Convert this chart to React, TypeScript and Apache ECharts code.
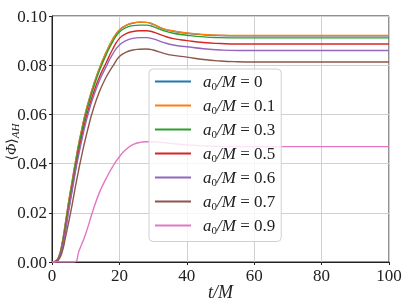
import React, { useEffect, useRef } from "react";
import * as echarts from "echarts";

// time samples (t/M) for the six upper curves
const T = [0, 1, 2, 3, 4, 5, 6, 7, 8, 9, 10, 11, 12, 14, 16, 18, 20, 22, 24, 26, 28, 30, 33, 36, 40, 45, 50, 55, 60, 70, 80, 90, 100];

const phi_a00 = [0, 0.0003, 0.002, 0.0075, 0.016, 0.025, 0.033, 0.041, 0.0485, 0.055, 0.061, 0.066, 0.0705, 0.0785, 0.085, 0.0905, 0.0943, 0.0962, 0.0971, 0.0975, 0.0974, 0.0966, 0.0948, 0.0938, 0.093, 0.0924, 0.0921, 0.092, 0.092, 0.092, 0.092, 0.092, 0.092];
const phi_a01 = [0, 0.0003, 0.002, 0.0075, 0.016, 0.025, 0.033, 0.041, 0.0485, 0.055, 0.061, 0.066, 0.0705, 0.0785, 0.085, 0.0905, 0.0943, 0.0962, 0.0972, 0.0975, 0.0974, 0.0967, 0.0949, 0.0939, 0.0931, 0.0925, 0.0922, 0.0921, 0.0921, 0.0921, 0.0921, 0.0921, 0.0921];
const phi_a03 = [0, 0.0002, 0.0018, 0.007, 0.015, 0.0238, 0.032, 0.04, 0.0475, 0.054, 0.06, 0.065, 0.0695, 0.0775, 0.084, 0.0895, 0.0935, 0.0953, 0.0961, 0.0963, 0.0963, 0.0957, 0.0941, 0.093, 0.0922, 0.0915, 0.0912, 0.0911, 0.0911, 0.0911, 0.0911, 0.0911, 0.0911];
const phi_a05 = [0, 0.0002, 0.0015, 0.006, 0.0135, 0.022, 0.03, 0.038, 0.0455, 0.052, 0.058, 0.063, 0.0675, 0.075, 0.0808, 0.0865, 0.0909, 0.0928, 0.0937, 0.094, 0.094, 0.0935, 0.092, 0.0908, 0.09, 0.0892, 0.0888, 0.0886, 0.0886, 0.0886, 0.0886, 0.0886, 0.0886];
const phi_a06 = [0, 0.0001, 0.0013, 0.0055, 0.0125, 0.021, 0.029, 0.037, 0.044, 0.0505, 0.0565, 0.0615, 0.066, 0.0735, 0.0792, 0.0845, 0.0882, 0.09, 0.0909, 0.0912, 0.0912, 0.0907, 0.0893, 0.0882, 0.0875, 0.0867, 0.0862, 0.086, 0.086, 0.086, 0.086, 0.086, 0.086];
const phi_a07 = [0, 0.0001, 0.001, 0.004, 0.01, 0.0165, 0.0235, 0.031, 0.038, 0.0445, 0.0505, 0.056, 0.061, 0.069, 0.075, 0.0795, 0.0835, 0.0853, 0.0862, 0.0865, 0.0866, 0.0862, 0.0849, 0.084, 0.0833, 0.0823, 0.0817, 0.0814, 0.0813, 0.0813, 0.0813, 0.0813, 0.0813];

// a0/M = 0.9 curve has its own samples
const T_a09 = [0, 6.5, 8, 10, 12, 14, 16, 18, 20, 22, 24, 26, 28, 30, 33, 36, 40, 45, 50, 60, 70, 80, 90, 100];
const phi_a09 = [0, 0, 0.0045, 0.0115, 0.0202, 0.028, 0.0338, 0.0388, 0.0428, 0.0458, 0.0477, 0.0486, 0.0489, 0.0489, 0.0486, 0.0481, 0.0476, 0.0472, 0.047, 0.0469, 0.0469, 0.0469, 0.0469, 0.0469];

const spinLabels = ["0", "0.1", "0.3", "0.5", "0.6", "0.7", "0.9"];
const colors = ["#1f77b4", "#ff7f0e", "#2ca02c", "#d62728", "#9467bd", "#8c564b", "#e377c2"];

const xTicks = { min: 0, max: 100, interval: 20 };
const yTicks = { min: 0, max: 0.1, interval: 0.02 };

const SERIF = "'Liberation Serif', 'DejaVu Serif', serif";

export default function App() {
  const ref = useRef<HTMLDivElement>(null);
  useEffect(() => {
    if (!ref.current) return;
    const chart = echarts.init(ref.current, null, { renderer: "svg" });
    const ys = [phi_a00, phi_a01, phi_a03, phi_a05, phi_a06, phi_a07];
    const series: any[] = spinLabels.map((lab, i) => {
      const xs = i === 6 ? T_a09 : T;
      const vals = i === 6 ? phi_a09 : ys[i];
      return {
        name: lab,
        type: "line",
        data: xs.map((t, k) => [t, vals[k]]),
        showSymbol: false,
        symbol: "none",
        smooth: 0.5,
        lineStyle: { color: colors[i], width: 1.4 },
        itemStyle: { color: colors[i] },
      };
    });
    chart.setOption({
      animation: false,
      grid: {
        left: 52, right: 20, top: 16, bottom: 45,
        containLabel: false,
        outerBoundsMode: "none",
        show: true, borderColor: "#222", borderWidth: 1, backgroundColor: "transparent",
      },
      graphic: [
        {
          type: "text",
          x: 11,
          y: 142,
          rotation: Math.PI / 2,
          style: {
            text: "{b|⟨}{i|Φ}{b|⟩}{s|AH}",
            align: "center",
            verticalAlign: "middle",
            rich: {
              b: { fontFamily: "'DejaVu Serif', serif", fontSize: 14, fill: "#222", lineHeight: 18 },
              i: { fontFamily: SERIF, fontStyle: "italic", fontSize: 15, fill: "#222", lineHeight: 18 },
              s: { fontFamily: SERIF, fontStyle: "italic", fontSize: 11, fill: "#222", lineHeight: 11, verticalAlign: "bottom" },
            },
          },
        },
      ],
      xAxis: {
        type: "value",
        min: xTicks.min,
        max: xTicks.max,
        interval: xTicks.interval,
        name: "t/M",
        nameLocation: "middle",
        nameGap: 21,
        nameMoveOverlap: false,
        nameTextStyle: { fontFamily: SERIF, fontStyle: "italic", fontSize: 18, color: "#222" },
        axisLine: { show: true, lineStyle: { color: "#222", width: 1 } },
        axisTick: { show: true, length: 3, lineStyle: { color: "#222" } },
        axisLabel: { fontFamily: SERIF, fontSize: 17, color: "#222", margin: 5 },
        splitLine: { show: true, lineStyle: { color: "#d0d0d0", width: 1 } },
      },
      yAxis: {
        type: "value",
        min: yTicks.min,
        max: yTicks.max,
        interval: yTicks.interval,
        axisLine: { show: true, lineStyle: { color: "#222", width: 1 } },
        axisTick: { show: true, length: 3, lineStyle: { color: "#222" } },
        axisLabel: { fontFamily: SERIF, fontSize: 17, color: "#222", margin: 5, formatter: (v: number) => v.toFixed(2) },
        splitLine: { show: true, lineStyle: { color: "#d0d0d0", width: 1 } },
      },
      legend: {
        orient: "vertical",
        left: 149,
        top: 69,
        padding: [4, 6, 6, 6],
        itemGap: 5.5,
        itemWidth: 36,
        itemHeight: 2,
        icon: "rect",
        backgroundColor: "rgba(255,255,255,0.8)",
        borderColor: "#d0d0d0",
        borderWidth: 1,
        borderRadius: 4,
        data: spinLabels,
        formatter: (name: string) => `{g| }{i|a}{s|0}{i|/M}{r| = ${name}}`,
        textStyle: {
          rich: {
            g: { width: 7, fontSize: 10, lineHeight: 20 },
            i: { fontFamily: SERIF, fontStyle: "italic", fontSize: 17, color: "#222", lineHeight: 20 },
            s: { fontFamily: SERIF, fontSize: 11, color: "#222", lineHeight: 11, verticalAlign: "bottom" },
            r: { fontFamily: SERIF, fontSize: 17, color: "#222", lineHeight: 20 },
          },
        },
      },
      series,
    });
    return () => chart.dispose();
  }, []);
  return <div ref={ref} style={{ position: "fixed", left: 0, top: 0, width: 409, height: 307 }} />;
}
